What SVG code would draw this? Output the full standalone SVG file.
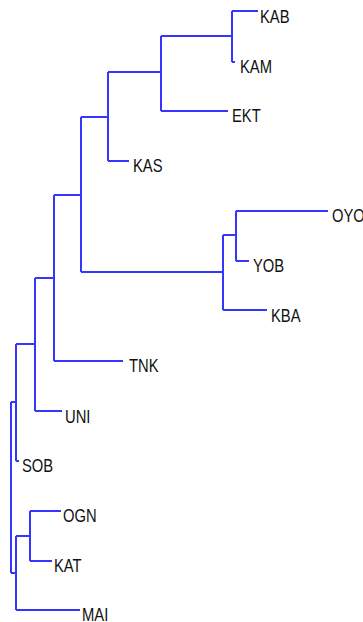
<svg xmlns="http://www.w3.org/2000/svg" width="363" height="622" viewBox="0 0 363 622">
<style>
.e{fill:none;stroke:#3535ff;stroke-width:2;stroke-linecap:butt}
.t{font-family:"Liberation Sans",Arial,sans-serif;font-size:14.8px;fill:#111111}
</style>
<rect width="363" height="622" fill="#ffffff"/>
<g id="connectors">
<path class="e" d="M11,402V573 M11,402H16 M16,344V461 M16,344H35 M35,278V411 M35,278H54 M54,195V361 M54,195H81 M81,117V272 M81,117H108 M108,72V161 M108,72H161 M161,36V111 M161,36H232 M232,11V62 M232,11H258 M232,62H235 M161,111H228 M108,161H129 M81,272H223 M223,235V310 M223,235H236 M236,211V261 M236,211H328 M236,261H249 M223,310H267 M54,361H123 M35,411H62 M16,461H19 M11,573H16 M16,536V610 M16,536H30 M30,511V561 M30,511H61 M30,561H52 M16,610H80"/>
</g>
<g id="KAB"><text class="t" transform="translate(260,23) scale(1,1.2)">KAB</text></g>
<g id="KAM"><text class="t" transform="translate(240,73) scale(1,1.2)">KAM</text></g>
<g id="EKT"><text class="t" transform="translate(232,122) scale(1,1.2)">EKT</text></g>
<g id="KAS"><text class="t" transform="translate(133,172) scale(1,1.2)">KAS</text></g>
<g id="OYO"><text class="t" transform="translate(332,222) scale(1,1.2)">OYO</text></g>
<g id="YOB"><text class="t" transform="translate(253,272) scale(1,1.2)">YOB</text></g>
<g id="KBA"><text class="t" transform="translate(271,322) scale(1,1.2)">KBA</text></g>
<g id="TNK"><text class="t" transform="translate(129,372) scale(1,1.2)">TNK</text></g>
<g id="UNI"><text class="t" transform="translate(65,423) scale(1,1.2)">UNI</text></g>
<g id="SOB"><text class="t" transform="translate(22,472) scale(1,1.2)">SOB</text></g>
<g id="OGN"><text class="t" transform="translate(63,522) scale(1,1.2)">OGN</text></g>
<g id="KAT"><text class="t" transform="translate(54,572) scale(1,1.2)">KAT</text></g>
<g id="MAI"><text class="t" transform="translate(82,621) scale(1,1.2)">MAI</text></g>
</svg>
